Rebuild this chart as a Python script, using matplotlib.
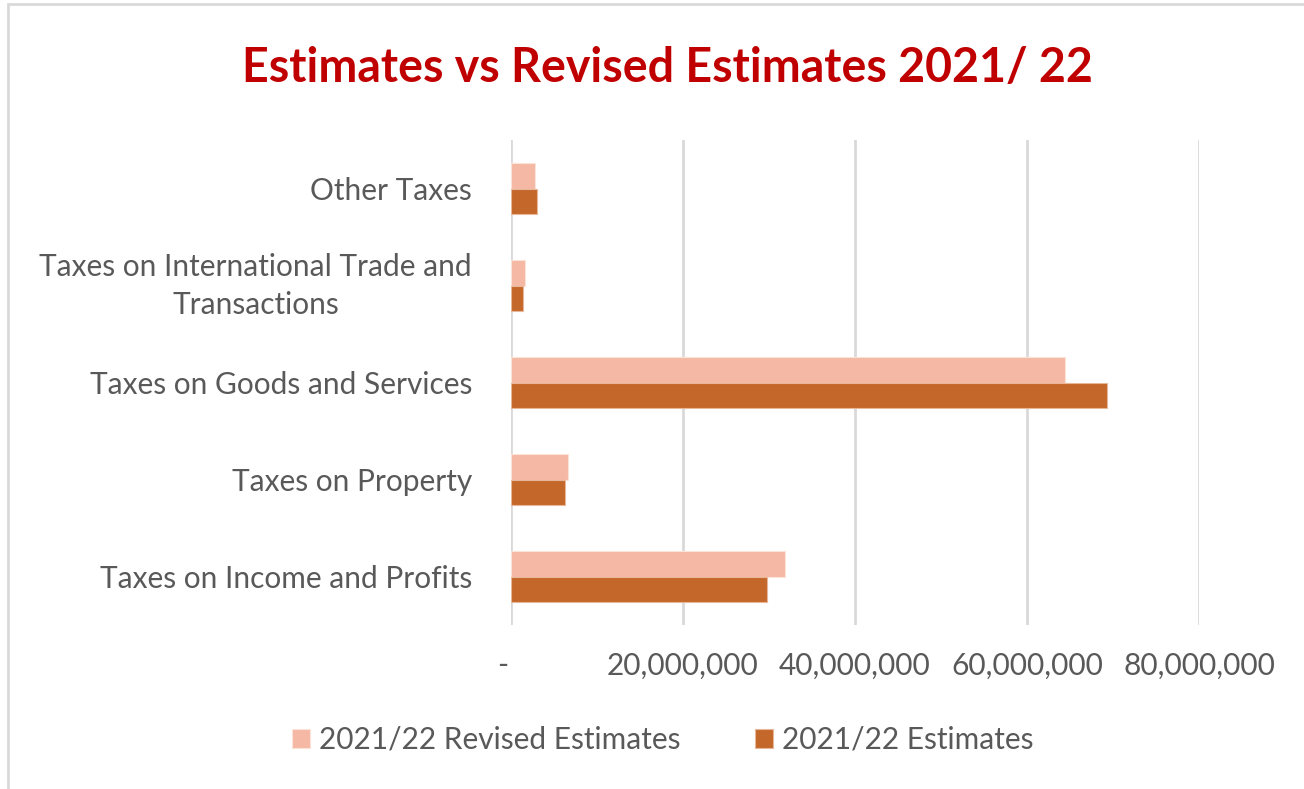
import matplotlib
matplotlib.use("Agg")
import matplotlib.pyplot as plt
from matplotlib.patches import Rectangle
from matplotlib.ticker import FixedLocator, FuncFormatter
from matplotlib.transforms import ScaledTranslation
import numpy as np

# Tax revenue categories (bottom to top as drawn)
categories = [
    "Taxes on Income and Profits",
    "Taxes on Property",
    "Taxes on Goods and Services",
    "Taxes on International Trade and\nTransactions",
    "Other Taxes",
]
revised_estimates = [31_860_000, 6_620_000, 64_400_000, 1_580_000, 2_740_000]
estimates = [29_800_000, 6_270_000, 69_300_000, 1_350_000, 2_970_000]
series_names = ["2021/22 Revised Estimates", "2021/22 Estimates"]
x_ticks = [0, 20_000_000, 40_000_000, 60_000_000, 80_000_000]

color_revised = "#F4B8A4"
color_est = "#C4672A"
text_gray = "#595959"
grid_gray = "#D9D9D9"
font = "Lato"
label_size = 21.5

W, H = 1304, 789
fig = plt.figure(figsize=(W / 100, H / 100), dpi=100)
fig.patch.set_facecolor("white")

# Chart border
fig.add_artist(Rectangle((8 / W, -0.01), 1.2, 1 - 4 / H + 0.01, transform=fig.transFigure,
                         fill=False, edgecolor="#D9D9D9", linewidth=2))

ax = fig.add_axes([511 / W, 1 - 625 / H, 688 / W, 485 / H])
y = np.arange(len(categories))
h = 0.26
ax.barh(y + h / 2, revised_estimates, height=h, color=color_revised,
        edgecolor="#FBE3DA", linewidth=0.8, label=series_names[0], zorder=3)
ax.barh(y - h / 2, estimates, height=h, color=color_est,
        edgecolor="#E8B79A", linewidth=0.8, label=series_names[1], zorder=3)

ax.set_xlim(0, 80_000_000)
ax.set_ylim(-0.5, len(categories) - 0.5)
ax.xaxis.set_major_locator(FixedLocator(x_ticks))
ax.xaxis.set_major_formatter(FuncFormatter(lambda v, p: "-  " if v == 0 else f"{v:,.0f}"))
ax.grid(axis="x", color=grid_gray, linewidth=2, zorder=0)
for s in ax.spines.values():
    s.set_visible(False)
ax.tick_params(axis="both", length=0, colors=text_gray)
ax.tick_params(axis="x", pad=19, labelsize=label_size)
ax.tick_params(axis="y", pad=28, labelsize=label_size)
ax.set_yticks(y)
ax.set_yticklabels(categories, ha="right", multialignment="center", linespacing=1.45)
for lab in ax.get_yticklabels() + ax.get_xticklabels():
    lab.set_fontfamily(font)
    lab.set_color(text_gray)
# Lift the two-line label so its block sits centred on the bar pair
two_line = ax.get_yticklabels()[3]
two_line.set_transform(two_line.get_transform() + ScaledTranslation(0, 5 / 72, fig.dpi_scale_trans))

fig.text(667 / W, 1 - 68 / H, "Estimates vs Revised Estimates 2021/ 22", ha="center", va="center",
         fontsize=33.5, fontweight="bold", color="#C00000", fontfamily=font)

leg = fig.legend(loc="center", bbox_to_anchor=(663 / W, 1 - 740 / H), ncol=2, frameon=False,
                 prop={"family": font, "size": label_size}, handlelength=0.6, handleheight=0.6,
                 handletextpad=0.3, columnspacing=2.5)
for t in leg.get_texts():
    t.set_color(text_gray)

fig.savefig("out.png", dpi=100, facecolor="white")
